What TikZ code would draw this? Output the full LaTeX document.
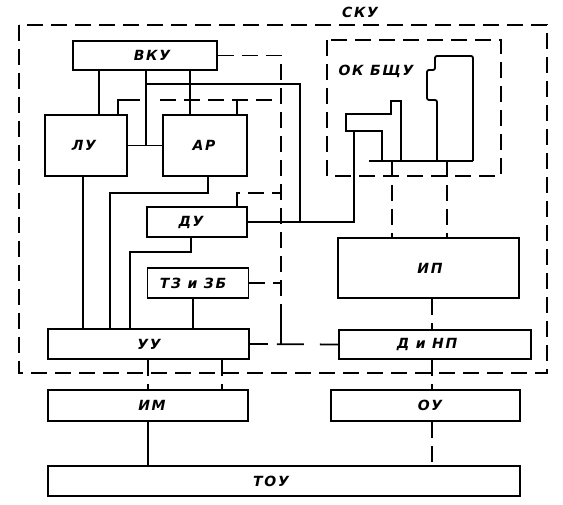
\documentclass[tikz,border=0pt]{standalone}
\usepackage{fontspec}
\setmainfont{DejaVu Sans}
\newfontfamily\lblfont[LetterSpace=12]{DejaVu Sans}
\begin{document}
\begin{tikzpicture}[x=1pt,y=-1pt,
  ln/.style={line width=1.8pt},
  dsh/.style={line width=1.8pt,dash pattern=on 16pt off 8pt},
  box/.style={draw,line width=1.8pt,inner sep=0pt},
  lbl/.style={inner sep=0pt,font=\lblfont\fontsize{14}{16}\selectfont\bfseries\itshape}
]
\useasboundingbox (0,0) rectangle (563,505);
% frames
\draw[dsh] (19,25) rectangle (547,373);
\draw[dsh] (327,40) rectangle (501,176);
\node[lbl] (sku) at (360,12) {СКУ};
\node[lbl] (okb) at (376,71) {ОК БЩУ};
% boxes
\node[box,minimum width=144pt,minimum height=29pt] (vku) at (145,55.5) {};
\node[box,minimum width=82pt,minimum height=61pt] (lu) at (86,145.5) {};
\node[box,minimum width=84pt,minimum height=61pt] (ar) at (205,145.5) {};
\node[box,minimum width=100pt,minimum height=30pt] (du) at (197,222) {};
\node[box,minimum width=101pt,minimum height=30pt] (tz) at (198,283) {};
\node[box,minimum width=201pt,minimum height=30pt] (uu) at (148.5,344) {};
\node[box,minimum width=181pt,minimum height=60pt] (ip) at (428.5,268) {};
\node[box,minimum width=192pt,minimum height=29pt] (dnp) at (435,344.5) {};
\node[box,minimum width=200pt,minimum height=31pt] (im) at (148,405.5) {};
\node[box,minimum width=189pt,minimum height=31pt] (ou) at (425.5,405.5) {};
\node[box,minimum width=472pt,minimum height=30pt] (tou) at (284,481) {};
% texts
\node[lbl] (vkut) at (152,55.5) {ВКУ};
\node[lbl] (lut) at (84,145.5) {ЛУ};
\node[lbl] (art) at (204,145.5) {АР};
\node[lbl] (dut) at (191,222) {ДУ};
\node[lbl] (tzt) at (193,283) {ТЗ и ЗБ};
\node[lbl] (uut) at (149,344) {УУ};
\node[lbl] (ipt) at (430,268) {ИП};
\node[lbl] (dnpt) at (427,344.5) {Д и НП};
\node[lbl] (imt) at (152,405.5) {ИМ};
\node[lbl] (out) at (430,405.5) {ОУ};
\node[lbl] (tout) at (271,481) {ТОУ};
% console (ОК БЩУ)
\draw[ln] (346,114) -- (391,114) -- (391,101) -- (401,101) -- (401,161) -- (382,161) -- (382,131) -- (346,131) -- cycle;
\draw[ln,rounded corners=2pt] (437,161) -- (437,100) -- (427,100) -- (427,70) -- (435,70) -- (435,56) -- (473,56) -- (473,161);
\draw[ln] (369,161) -- (473,161);
\coordinate (armb) at (354,131);
\coordinate (base1) at (392,161);
\coordinate (base2) at (447,161);
% guides
\coordinate (gA) at (99,0);
\coordinate (gB) at (190,0);
\coordinate (gC) at (146,0);
\coordinate (gD) at (300,84);
\coordinate (gE) at (281,0);
\coordinate (gF) at (83,0);
\coordinate (gG) at (208,193);
\coordinate (gH) at (110,193);
\coordinate (gI) at (191,252);
\coordinate (gJ) at (130,252);
\coordinate (gK) at (193,0);
\coordinate (gL) at (118,100);
\coordinate (gL2) at (140,100);
\coordinate (gL3) at (160,100);
\coordinate (gM) at (237,100);
\coordinate (gN) at (237,193);
\coordinate (gP) at (148,0);
\coordinate (gQ) at (222,0);
\coordinate (gR) at (432,0);
\coordinate (gT) at (281,318);
% solid connectors
\draw[ln] (vku.south -| gA) -- (lu.north -| gA);
\draw[ln] (vku.south -| gB) -- (ar.north -| gB);
\draw[ln] (lu.east) -- (ar.west);
\draw[ln] (vku.south -| gC) -- (lu.east -| gC);
\draw[ln] (gC |- gD) -- (gD) -- (du.east -| gD);
\draw[ln] (du.east) -- (du.east -| armb) -- (armb);
\draw[ln] (lu.south -| gF) -- (uu.north -| gF);
\draw[ln] (ar.south -| gG) -- (gG) -- (gH) -- (uu.north -| gH);
\draw[ln] (du.south -| gI) -- (gI) -- (gJ) -- (uu.north -| gJ);
\draw[ln] (tz.south -| gK) -- (uu.north -| gK);
\draw[ln] (im.south -| gP) -- (tou.north -| gP);
\draw[ln] (lu.north -| gL) -- (gL) -- (gL2);
\draw[ln] (gM) -- (ar.north -| gM);
% dashed connectors
\draw[dsh] (gL3) -- (gL -| gE);
\draw[dsh] (vku.east) -- (vku.east -| gE) -- (gT);
\draw[ln] (gT) -- (uu.east -| gT);
\draw[ln,dash pattern=on 18pt off 9pt on 27pt off 16pt on 30pt] (uu.east) -- (dnp.west);
\draw[dsh] (du.north -| gN) -- (gN) -- (gN -| gE);
\draw[dsh] (tz.east) -- (tz.east -| gE);
\draw[dsh] (uu.south -| gP) -- (im.north -| gP);
\draw[dsh] (uu.south -| gQ) -- (im.north -| gQ);
\draw[dsh] (ip.south -| gR) -- (dnp.north -| gR);
\draw[dsh] (dnp.south -| gR) -- (ou.north -| gR);
\draw[dsh] (ou.south -| gR) -- (tou.north -| gR);
\draw[dsh] (base1) -- (ip.north -| base1);
\draw[dsh] (base2) -- (ip.north -| base2);
\end{tikzpicture}
\end{document}
